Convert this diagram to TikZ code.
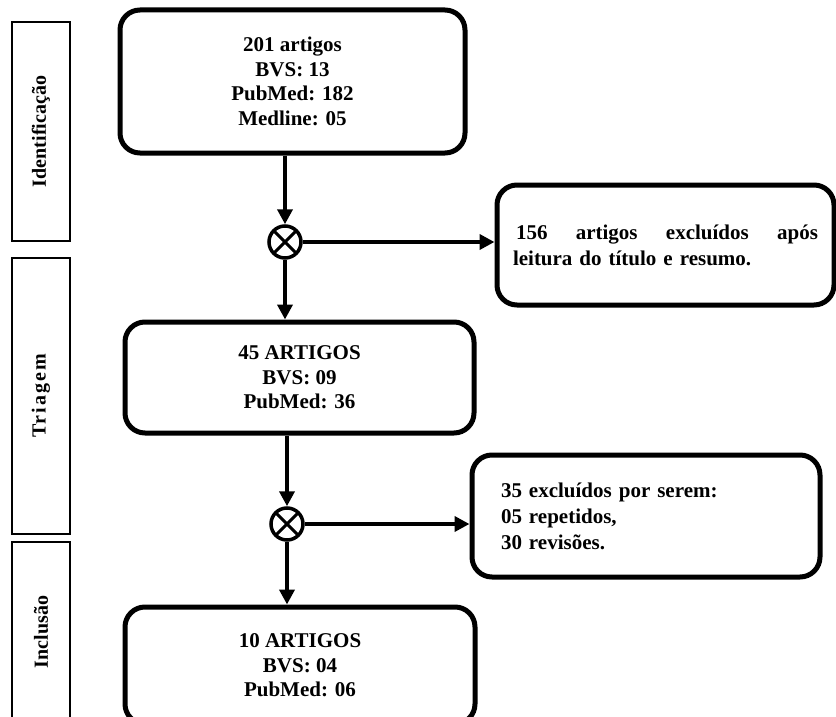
\documentclass[tikz,border=0pt]{standalone}
\usepackage{fontspec}
\setmainfont{Liberation Serif}
\usetikzlibrary{arrows.meta}
\tikzset{
  mainbox/.style={draw, line width=5pt, rounded corners=20pt, align=center,
    font=\fontsize{21}{24.5}\selectfont\bfseries, inner sep=0pt},
  sidebox/.style={draw, line width=5pt, rounded corners=20pt, align=left,
    font=\fontsize{21}{26}\selectfont\bfseries, inner sep=0pt},
  phase/.style={draw, line width=1.2pt, inner sep=0pt},
  phasetext/.style={rotate=90, font=\fontsize{20}{24}\selectfont\bfseries},
  junction/.style={draw, circle, line width=3.5pt, minimum size=32pt, inner sep=0pt,
    path picture={\draw[line width=3pt] (path picture bounding box.south west) -- (path picture bounding box.north east)
      (path picture bounding box.north west) -- (path picture bounding box.south east);}},
  arr/.style={line width=4pt, -{Triangle[length=15pt,width=15pt]}}
}
\begin{document}
\begin{tikzpicture}[x=1pt,y=-1pt]
\useasboundingbox (0,0) rectangle (836,717);
% phase boxes
\node[phase, minimum width=58pt, minimum height=219pt] (p1) at (41,131.5) {};
\node[phasetext] (t1) at (p1.center) {Identificação};
\node[phase, minimum width=58pt, minimum height=276pt] (p2) at (41,396) {};
\node[phasetext] (t2) at (p2.center) {\addfontfeature{LetterSpace=10}Triagem};
\node[phase, minimum width=58pt, minimum height=180pt] (p3) at (41,632) {};
\node[phasetext] (t3) at (p3.center) {Inclusão};
% main boxes
\node[mainbox, minimum width=345pt, minimum height=143pt] (b1) at (292.5,81.5)
  {201 artigos\\BVS: 13\\PubMed: 182\\Medline: 05};
\node[mainbox, minimum width=349pt, minimum height=111pt] (b3) at (299.5,377.5)
  {45 ARTIGOS\\BVS: 09\\PubMed: 36};
\node[mainbox, minimum width=350pt, minimum height=117pt] (b5) at (300,665.5)
  {10 ARTIGOS\\BVS: 04\\PubMed: 06};
% side boxes
\node[sidebox, minimum width=337pt, minimum height=120pt, text width=305pt] (r1) at (665.5,245)
  {\makebox[305pt][l]{\hspace*{3pt}156\hfill artigos\hfill excluídos\hfill após}\\leitura do título e resumo.};
\node[sidebox, minimum width=348pt, minimum height=122pt, text width=290pt] (r2) at (646,516)
  {35 excluídos por serem:\\05 repetidos,\\30 revisões.};
% junctions
\node[junction] (c1) at (285,242) {};
\node[junction] (c2) at (287,524) {};
% connectors
\draw[arr] (c1 |- b1.south) -- (c1.north);
\draw[arr] (c1.south) -- (c1 |- b3.north);
\draw[arr] (c1.east) -- (c1 -| r1.west);
\draw[arr] (c2 |- b3.south) -- (c2.north);
\draw[arr] (c2.south) -- (c2 |- b5.north);
\draw[arr] (c2.east) -- (c2 -| r2.west);
\end{tikzpicture}
\end{document}
